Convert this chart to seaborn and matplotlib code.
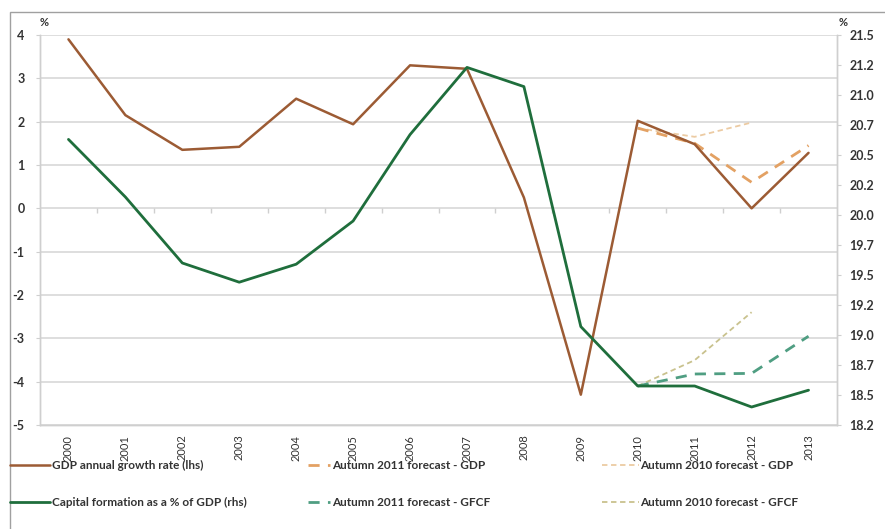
import numpy as np
import pandas as pd
import matplotlib
matplotlib.use('Agg')
import matplotlib.pyplot as plt
from matplotlib.lines import Line2D
from matplotlib.patches import Rectangle
import seaborn as sns

years = list(range(2000, 2014))
gdp = [3.9, 2.15, 1.35, 1.42, 2.53, 1.94, 3.3, 3.22, 0.25, -4.3, 2.02, 1.48, 0.0, 1.28]
gfcf = [20.63, 20.15, 19.6, 19.44, 19.59, 19.95, 20.67, 21.23, 21.07, 19.07,
        18.575, 18.575, 18.4, 18.54]

fc_years_2011 = [2010, 2011, 2012, 2013]
gdp_fc_2011 = [1.85, 1.5, 0.6, 1.45]
gfcf_fc_2011 = [18.575, 18.675, 18.68, 18.99]

fc_years_2010 = [2010, 2011, 2012]
gdp_fc_2010 = [1.85, 1.65, 1.98]
gfcf_fc_2010 = [18.575, 18.79, 19.19]

left_ticks = [-5, -4, -3, -2, -1, 0, 1, 2, 3, 4]
right_ticks = [18.25, 18.5, 18.75, 19.0, 19.25, 19.5, 19.75, 20.0, 20.25, 20.5,
               20.75, 21.0, 21.25, 21.5]
right_labels = ['18.2', '18.5', '18.7', '19.0', '19.2', '19.5', '19.7', '20.0',
                '20.2', '20.5', '20.7', '21.0', '21.2', '21.5']

c_gdp = '#9c5b34'
c_gfcf = '#1f6e3c'
c_gdp11 = '#e3a163'
c_gdp10 = '#eccba3'
c_gfcf11 = '#4f9e82'
c_gfcf10 = '#c9c28e'

sns.set_style('white')
plt.rcParams['font.family'] = ['Lato', 'DejaVu Sans']

fig = plt.figure(figsize=(8.85, 5.29), dpi=100)
fig.patches.append(Rectangle((10 / 885, -0.01), 2, 1 - 12 / 529 + 0.01,
                             transform=fig.transFigure, fill=False,
                             edgecolor='#a0a0a0', linewidth=1.0))
ax = fig.add_axes([40 / 885, 1 - 425 / 529, (837 - 40) / 885, (425 - 35) / 529])
ax2 = ax.twinx()

df = pd.DataFrame({'year': years, 'gdp': gdp, 'gfcf': gfcf})
f11 = pd.DataFrame({'year': fc_years_2011, 'gdp': gdp_fc_2011, 'gfcf': gfcf_fc_2011})
f10 = pd.DataFrame({'year': fc_years_2010, 'gdp': gdp_fc_2010, 'gfcf': gfcf_fc_2010})

# forecasts first, actuals on top
sns.lineplot(data=f10, x='year', y='gdp', ax=ax, color=c_gdp10, lw=1.3,
             linestyle=(0, (3, 2)))
sns.lineplot(data=f11, x='year', y='gdp', ax=ax, color=c_gdp11, lw=2.0,
             linestyle=(0, (4, 3)))
sns.lineplot(data=df, x='year', y='gdp', ax=ax, color=c_gdp, lw=1.8)

sns.lineplot(data=f10, x='year', y='gfcf', ax=ax2, color=c_gfcf10, lw=1.3,
             linestyle=(0, (3, 2)))
sns.lineplot(data=f11, x='year', y='gfcf', ax=ax2, color=c_gfcf11, lw=2.0,
             linestyle=(0, (4, 3)))
sns.lineplot(data=df, x='year', y='gfcf', ax=ax2, color=c_gfcf, lw=2.0)

ax.set_xlim(1999.5, 2013.5)
ax.set_ylim(-5, 4)
ax2.set_ylim(18.25, 21.5)
ax.set_yticks(left_ticks)
ax.set_yticklabels([str(t) for t in left_ticks], fontsize=9, fontweight='bold',
                   color='#333333')
ax2.set_yticks(right_ticks)
ax2.set_yticklabels(right_labels, fontsize=9, fontweight='bold', color='#333333')
ax.set_xticks(years)
ax.set_xticklabels([str(y) for y in years], rotation=90, fontsize=8,
                   color='#333333')
ax.set_xlabel('')
ax.set_ylabel('')
ax2.set_ylabel('')

ax.grid(axis='y', color='#d8d8d8', lw=1.2)
ax.set_axisbelow(True)
for a in (ax, ax2):
    a.spines['top'].set_visible(False)
    for s in ('left', 'right', 'bottom'):
        a.spines[s].set_color('#cfcfcf')
        a.spines[s].set_linewidth(1.0)
ax.tick_params(axis='x', length=0, pad=7)
ax.tick_params(axis='y', length=3, color='#cfcfcf', pad=8, left=True)
ax2.tick_params(axis='y', length=3, color='#cfcfcf', pad=6, right=True)

# small category tick marks on the zero line
ax.vlines(np.arange(2000.5, 2013.5, 1.0), -0.1, 0, color='#cfcfcf', lw=1.0)

fig.text(40 / 885, 1 - 22 / 529, '%', fontsize=8, fontweight='bold',
         color='#333333', ha='left', va='center')
fig.text(843 / 885, 1 - 22 / 529, '%', fontsize=8, fontweight='bold',
         color='#333333', ha='center', va='center')

legend_cols = [
    ([Line2D([], [], color=c_gdp, lw=1.8), Line2D([], [], color=c_gfcf, lw=2.0)],
     ['GDP annual growth rate (lhs)', 'Capital formation as a % of GDP (rhs)'],
     10, 3.4),
    ([Line2D([], [], color=c_gdp11, lw=2.0, linestyle=(0, (4, 3))),
      Line2D([], [], color=c_gfcf11, lw=2.0, linestyle=(0, (4, 3)))],
     ['Autumn 2011 forecast - GDP', 'Autumn 2011 forecast - GFCF'],
     308, 1.9),
    ([Line2D([], [], color=c_gdp10, lw=1.3, linestyle=(0, (3, 2))),
      Line2D([], [], color=c_gfcf10, lw=1.3, linestyle=(0, (3, 2)))],
     ['Autumn 2010 forecast - GDP', 'Autumn 2010 forecast - GFCF'],
     602, 3.1),
]
for handles, labels, x0, hl in legend_cols:
    leg = fig.legend(handles, labels, loc='upper left',
                     bbox_to_anchor=(x0 / 885, 1 - 460 / 529),
                     frameon=False, fontsize=8.5, handlelength=hl,
                     handletextpad=0.15, borderaxespad=0, borderpad=0,
                     labelspacing=2.2)
    for t in leg.get_texts():
        t.set_color('#333333')
        t.set_fontweight('bold')

fig.savefig('out.png', dpi=100)
